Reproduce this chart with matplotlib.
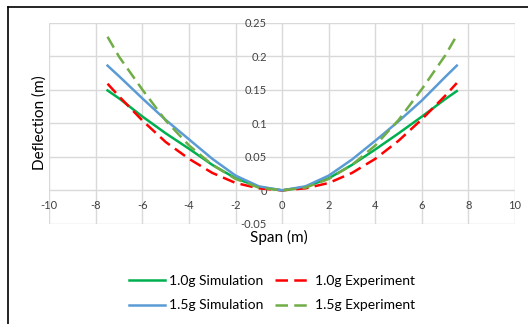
import matplotlib
matplotlib.use('Agg')
import matplotlib.pyplot as plt
from matplotlib.lines import Line2D

plt.rcParams['font.family'] = ['Lato', 'DejaVu Sans']

span = [-7.5, -7, -6, -5, -4, -3, -2, -1, 0, 1, 2, 3, 4, 5, 6, 7, 7.5]
sim_10 = [0.149, 0.137, 0.110, 0.085, 0.062, 0.038, 0.018, 0.005, 0,
          0.005, 0.018, 0.038, 0.061, 0.085, 0.110, 0.136, 0.148]
exp_10 = [0.159, 0.140, 0.104, 0.072, 0.047, 0.026, 0.011, 0.003, 0,
          0.003, 0.011, 0.026, 0.047, 0.074, 0.106, 0.141, 0.160]
sim_15 = [0.186, 0.170, 0.137, 0.105, 0.076, 0.047, 0.022, 0.006, 0,
          0.006, 0.022, 0.046, 0.074, 0.103, 0.134, 0.169, 0.186]
exp_15 = [0.229, 0.199, 0.150, 0.104, 0.067, 0.038, 0.017, 0.004, 0,
          0.004, 0.017, 0.038, 0.067, 0.105, 0.151, 0.201, 0.231]

xticks = list(range(-10, 11, 2))
yticks = [-0.05, 0, 0.05, 0.1, 0.15, 0.2, 0.25]
ylabels = ['-0.05', '0', '0.05', '0.1', '0.15', '0.2', '0.25']

fig = plt.figure(figsize=(5.28, 3.24), dpi=100)
ax = fig.add_axes([0.0934, 0.309, 0.882, 0.621])

l1, = ax.plot(span, sim_10, color='#00b050', lw=1.8, label='1.0g Simulation')
l2, = ax.plot(span, exp_10, color='#ff0000', lw=1.8, dashes=(5, 2.5), label='1.0g Experiment')
l3, = ax.plot(span, sim_15, color='#5b9bd5', lw=1.8, label='1.5g Simulation')
l4, = ax.plot(span, exp_15, color='#70ad47', lw=1.8, dashes=(5, 2.5), label='1.5g Experiment')

ax.set_xlim(-10, 10)
ax.set_ylim(-0.05, 0.25)
ax.set_xticks(xticks)
ax.set_xticklabels([str(t) for t in xticks])
ax.set_yticks(yticks)
ax.set_yticklabels(ylabels)
ax.grid(True, color='#d9d9d9', lw=1)
ax.set_axisbelow(True)
for s in ax.spines.values():
    s.set_visible(False)
ax.spines['left'].set_position('zero')
ax.spines['bottom'].set_position('zero')
ax.tick_params(length=0, labelsize=8, colors='#404040')
ax.tick_params(axis='y', pad=11)
ax.tick_params(axis='x', pad=7)

fig.text(0.075, 0.62, 'Deflection (m)', rotation=90, ha='center', va='center', fontsize=11)
fig.text(0.528, 0.268, 'Span (m)', ha='center', va='center', fontsize=11)

fig.legend([l1, l3, l2, l4], ['1.0g Simulation', '1.5g Simulation', '1.0g Experiment', '1.5g Experiment'],
           ncol=2, frameon=False, fontsize=10, loc='center', bbox_to_anchor=(0.515, 0.095),
           handlelength=2.6, handletextpad=0.3, columnspacing=0.8, labelspacing=0.9)

# frame around the picture (left and top edges)
fig.add_artist(Line2D([0.016, 0.016], [0, 0.979], color='black', lw=1.2, transform=fig.transFigure))
fig.add_artist(Line2D([0.016, 1.0], [0.979, 0.979], color='black', lw=1.2, transform=fig.transFigure))

fig.savefig('out.png', dpi=100)
